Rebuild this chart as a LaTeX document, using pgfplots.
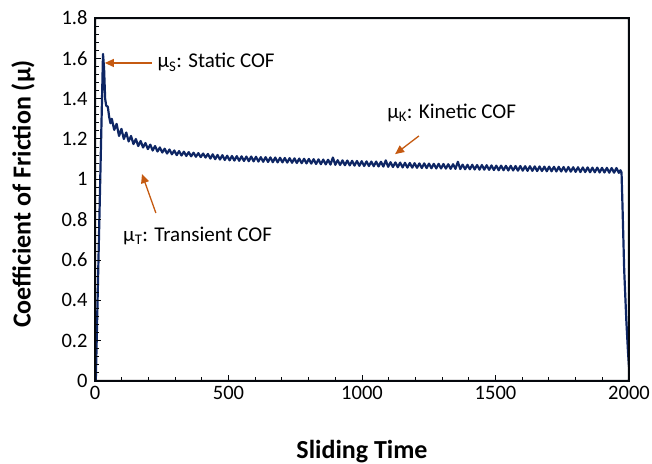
\documentclass[border=0pt]{standalone}
\usepackage{fontspec}
\setmainfont{Carlito}
\usepackage{pgfplots}
\pgfplotsset{compat=1.18}
\usetikzlibrary{arrows.meta}
\definecolor{cofline}{RGB}{14,38,100}
\definecolor{annot}{RGB}{197,90,17}
\definecolor{axcol}{rgb}{0.02,0.03,0.05}
\begin{document}
\begin{tikzpicture}
\path[use as bounding box] (-95bp,-83bp) rectangle (557bp,381bp);
\begin{axis}[
  scale only axis, width=534bp, height=363bp,
  xmin=0, xmax=2000, ymin=0, ymax=1.8,
  xtick={0,500,1000,1500,2000},
  ytick={0,0.2,0.4,0.6,0.8,1,1.2,1.4,1.6,1.8},
  minor x tick num=4, minor y tick num=4,
  tick align=inside, xtick pos=left, ytick pos=left,
  major tick length=6bp, minor tick length=4bp,
  axis line style={draw=axcol, line width=2.2bp},
  tick style={draw=axcol, line width=1bp},
  xlabel={Sliding Time},
  ylabel={Coefficient of Friction (μ)},
  xlabel style={font=\fontsize{26bp}{30bp}\selectfont\bfseries, at={(rel axis cs:0.5,0)}, anchor=base, yshift=-77bp},
  ylabel style={font=\fontsize{26bp}{30bp}\selectfont\bfseries, at={(rel axis cs:0,0.515)}, anchor=center, yshift=72bp},
  ticklabel style={font=\fontsize{20.5bp}{24bp}\selectfont},
  yticklabel style={xshift=-4bp},
  xticklabel style={yshift=-2bp},
  /pgf/number format/assume math mode=true,
  /pgf/number format/1000 sep={},
]
\addplot[cofline, line width=2.2bp, line join=round] table[row sep=\\]{
x y\\
0 0\\ 3 0\\ 30 1.622\\ 34 1.55\\ 38 1.40\\ 42 1.365\\ 48 1.36\\ 53 1.31\\ 58 1.278\\
63 1.300\\ 72 1.245\\ 81 1.275\\ 90 1.215\\ 99 1.250\\ 108 1.200\\ 117 1.232\\ 126 1.188\\
135 1.215\\ 144 1.175\\ 153 1.200\\ 162 1.165\\ 171 1.190\\ 180 1.158\\ 189 1.180\\ 198 1.150\\
207 1.172\\ 216 1.143\\ 225 1.165\\ 234 1.138\\ 243 1.158\\ 252 1.133\\ 261 1.152\\ 270 1.128\\
279 1.148\\ 288 1.124\\ 297 1.143\\ 306 1.120\\ 315 1.140\\ 324 1.118\\ 333 1.137\\ 342 1.116\\
351 1.135\\ 360 1.114\\ 369 1.132\\ 378 1.112\\ 387 1.130\\ 396 1.110\\ 405 1.128\\ 414 1.108\\
423 1.126\\ 432 1.103\\ 441 1.124\\ 450 1.100\\ 459 1.121\\ 468 1.098\\ 477 1.120\\ 486 1.096\\
495 1.117\\ 504 1.094\\ 513 1.116\\ 522 1.093\\ 531 1.115\\ 540 1.092\\ 549 1.114\\ 558 1.091\\
567 1.113\\ 576 1.090\\ 585 1.113\\ 594 1.089\\ 603 1.112\\ 612 1.088\\ 621 1.110\\ 630 1.087\\
639 1.110\\ 648 1.086\\ 657 1.109\\ 666 1.085\\ 675 1.108\\ 684 1.084\\ 693 1.107\\ 702 1.084\\
711 1.106\\ 720 1.083\\ 729 1.105\\ 738 1.082\\ 747 1.104\\ 756 1.081\\ 765 1.103\\ 774 1.080\\
783 1.102\\ 792 1.079\\ 801 1.101\\ 810 1.078\\ 819 1.100\\ 828 1.076\\ 837 1.099\\ 846 1.075\\
855 1.098\\ 864 1.074\\ 873 1.097\\ 882 1.073\\ 891 1.108\\ 900 1.072\\ 909 1.095\\ 918 1.071\\
927 1.094\\ 936 1.070\\ 945 1.093\\ 954 1.069\\ 963 1.092\\ 972 1.068\\ 981 1.091\\ 990 1.067\\
999 1.090\\ 1008 1.066\\ 1017 1.089\\ 1026 1.066\\ 1035 1.088\\ 1044 1.065\\ 1053 1.088\\ 1062 1.064\\
1071 1.087\\ 1080 1.063\\ 1089 1.094\\ 1098 1.062\\ 1107 1.085\\ 1116 1.061\\ 1125 1.084\\ 1134 1.060\\
1143 1.083\\ 1152 1.059\\ 1161 1.082\\ 1170 1.058\\ 1179 1.081\\ 1188 1.058\\ 1197 1.080\\ 1206 1.057\\
1215 1.079\\ 1224 1.056\\ 1233 1.079\\ 1242 1.056\\ 1251 1.078\\ 1260 1.055\\ 1269 1.077\\ 1278 1.054\\
1287 1.077\\ 1296 1.054\\ 1305 1.076\\ 1314 1.053\\ 1323 1.075\\ 1332 1.052\\ 1341 1.075\\ 1350 1.052\\
1359 1.087\\ 1368 1.051\\ 1377 1.073\\ 1386 1.050\\ 1395 1.072\\ 1404 1.050\\ 1413 1.072\\ 1422 1.049\\
1431 1.071\\ 1440 1.048\\ 1449 1.071\\ 1458 1.048\\ 1467 1.070\\ 1476 1.047\\ 1485 1.069\\ 1494 1.046\\
1503 1.068\\ 1512 1.045\\ 1521 1.068\\ 1530 1.045\\ 1539 1.067\\ 1548 1.044\\ 1557 1.067\\ 1566 1.044\\
1575 1.066\\ 1584 1.043\\ 1593 1.066\\ 1602 1.043\\ 1611 1.065\\ 1620 1.042\\ 1629 1.065\\ 1638 1.042\\
1647 1.064\\ 1656 1.041\\ 1665 1.064\\ 1674 1.041\\ 1683 1.063\\ 1692 1.040\\ 1701 1.063\\ 1710 1.040\\
1719 1.062\\ 1728 1.039\\ 1737 1.062\\ 1746 1.039\\ 1755 1.061\\ 1764 1.038\\ 1773 1.061\\ 1782 1.038\\
1791 1.060\\ 1800 1.037\\ 1809 1.060\\ 1818 1.036\\ 1827 1.059\\ 1836 1.036\\ 1845 1.059\\ 1854 1.035\\
1863 1.058\\ 1872 1.035\\ 1881 1.058\\ 1890 1.034\\ 1899 1.057\\ 1908 1.034\\ 1917 1.057\\ 1926 1.033\\
1935 1.056\\ 1944 1.033\\ 1953 1.056\\ 1962 1.032\\ 1968 1.045\\ 1972 1.035\\ 1976 0.85\\ 1982 0.55\\
1990 0.30\\ 1996 0.15\\ 2000 0.07\\
};
\pgfplotsinvokeforeach{0,500,1000,1500,2000}{\fill[axcol] ([xshift=-0.5bp]axis cs:#1,0) rectangle ([xshift=0.5bp,yshift=6bp]axis cs:#1,0);}
\pgfplotsinvokeforeach{100,200,300,400,600,700,800,900,1100,1200,1300,1400,1600,1700,1800,1900}{\fill[axcol] ([xshift=-0.5bp]axis cs:#1,0) rectangle ([xshift=0.5bp,yshift=4bp]axis cs:#1,0);}
\pgfplotsinvokeforeach{0,0.2,0.4,0.6,0.8,1,1.2,1.4,1.6,1.8}{\fill[axcol] ([yshift=-0.5bp]axis cs:0,#1) rectangle ([yshift=0.5bp,xshift=6bp]axis cs:0,#1);}
\pgfplotsinvokeforeach{0.04,0.08,0.12,0.16,0.24,0.28,0.32,0.36,0.44,0.48,0.52,0.56,0.64,0.68,0.72,0.76,0.84,0.88,0.92,0.96,1.04,1.08,1.12,1.16,1.24,1.28,1.32,1.36,1.44,1.48,1.52,1.56,1.64,1.68,1.72,1.76}{\fill[axcol] ([yshift=-0.5bp]axis cs:0,#1) rectangle ([yshift=0.5bp,xshift=4bp]axis cs:0,#1);}
\fill[axcol, even odd rule] ([xshift=-1.1bp,yshift=-1.1bp]rel axis cs:0,0) rectangle ([xshift=1.1bp,yshift=1.1bp]rel axis cs:1,1)
  ([xshift=1.1bp,yshift=1.1bp]rel axis cs:0,0) rectangle ([xshift=-1.1bp,yshift=-1.1bp]rel axis cs:1,1);
\draw[annot, line width=1.3bp, -{Triangle[length=9bp,width=8bp]}] (axis cs:213,1.577) -- (axis cs:37,1.577);
\draw[annot, line width=1.3bp, -{Triangle[length=9bp,width=8bp]}] (axis cs:1213,1.215) -- (axis cs:1124,1.125);
\draw[annot, line width=1.3bp, -{Triangle[length=9bp,width=8bp]}] (axis cs:228,0.833) -- (axis cs:176,1.026);
\node[anchor=west, inner sep=0pt, font=\fontsize{21bp}{25bp}\selectfont] at (axis cs:234,1.58) {μ\textsubscript{S}: Static COF};
\node[anchor=west, inner sep=0pt, font=\fontsize{21bp}{25bp}\selectfont] at (axis cs:1094,1.329) {μ\textsubscript{K}: Kinetic COF};
\node[anchor=west, inner sep=0pt, font=\fontsize{21bp}{25bp}\selectfont] at (axis cs:105,0.719) {μ\textsubscript{T}: Transient COF};
\end{axis}
\end{tikzpicture}
\end{document}
